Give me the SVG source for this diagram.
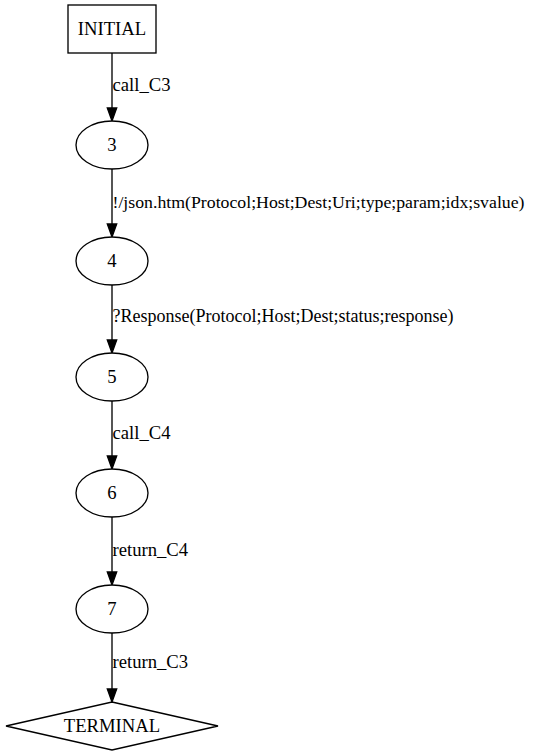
<svg xmlns="http://www.w3.org/2000/svg" width="539" height="755" viewBox="0 0 539 755">
<defs>
<style>
.shape{fill:#fff;stroke:#000;stroke-width:1.33}
.t{font-family:"Liberation Serif","Times New Roman",serif;font-size:18.67px;fill:#000}
.c{text-anchor:middle}
.e{stroke:#000;stroke-width:1.33;fill:none}
.ah{fill:#000;stroke:#000;stroke-width:1.33}
</style>
</defs>
<rect width="539" height="755" fill="#fff"/>
<g id="connectors">
<g id="e_init_3"><line class="e" x1="112" y1="53" x2="112" y2="108"/><polygon class="ah" points="107.3,108 116.7,108 112,121"/><text class="t" x="112.5" y="91">call_C3</text></g>
<g id="e_3_4"><line class="e" x1="112" y1="169" x2="112" y2="224"/><polygon class="ah" points="107.3,224 116.7,224 112,237"/><text class="t" x="112.5" y="208" style="font-size:17.6px" textLength="412" lengthAdjust="spacingAndGlyphs">!/json.htm(Protocol;Host;Dest;Uri;type;param;idx;svalue)</text></g>
<g id="e_4_5"><line class="e" x1="112" y1="285" x2="112" y2="340"/><polygon class="ah" points="107.3,340 116.7,340 112,353"/><text class="t" x="112.5" y="322" textLength="341" lengthAdjust="spacingAndGlyphs">?Response(Protocol;Host;Dest;status;response)</text></g>
<g id="e_5_6"><line class="e" x1="112" y1="401" x2="112" y2="456"/><polygon class="ah" points="107.3,456 116.7,456 112,469"/><text class="t" x="112.5" y="439">call_C4</text></g>
<g id="e_6_7"><line class="e" x1="112" y1="517" x2="112" y2="572"/><polygon class="ah" points="107.3,572 116.7,572 112,585"/><text class="t" x="112.5" y="556">return_C4</text></g>
<g id="e_7_term"><line class="e" x1="112" y1="633" x2="112" y2="689"/><polygon class="ah" points="107.3,689 116.7,689 112,702"/><text class="t" x="112.5" y="668">return_C3</text></g>
</g>
<g id="INITIAL"><rect class="shape" x="68" y="5" width="88" height="48"/><text class="t c" x="112" y="35">INITIAL</text></g>
<g id="n3"><ellipse class="shape" cx="112" cy="145" rx="36" ry="24"/><text class="t c" x="112" y="151">3</text></g>
<g id="n4"><ellipse class="shape" cx="112" cy="261" rx="36" ry="24"/><text class="t c" x="112" y="267">4</text></g>
<g id="n5"><ellipse class="shape" cx="112" cy="377" rx="36" ry="24"/><text class="t c" x="112" y="383">5</text></g>
<g id="n6"><ellipse class="shape" cx="112" cy="493" rx="36" ry="24"/><text class="t c" x="112" y="499">6</text></g>
<g id="n7"><ellipse class="shape" cx="112" cy="609" rx="36" ry="24"/><text class="t c" x="112" y="615">7</text></g>
<g id="TERMINAL"><polygon class="shape" points="112,702 218,726 112,750 6,726"/><text class="t c" x="112" y="732">TERMINAL</text></g>
</svg>
